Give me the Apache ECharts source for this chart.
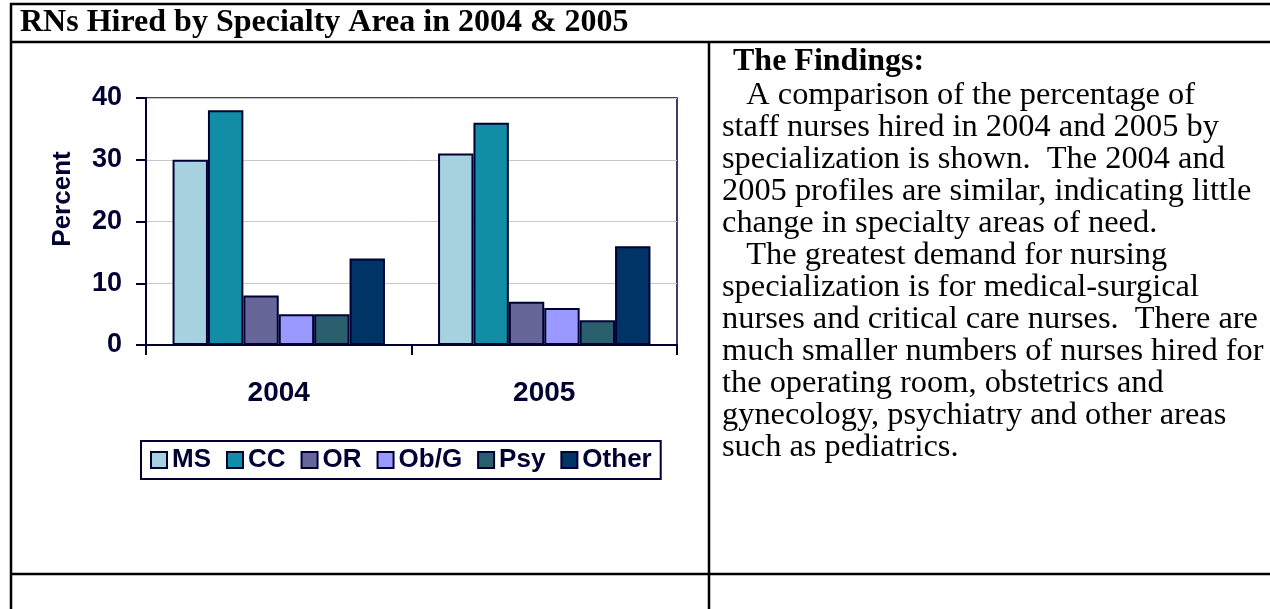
<!DOCTYPE html>
<html>
<head>
<meta charset="utf-8">
<style>
html,body{margin:0;padding:0;background:#fff;}
#main{width:1270px;height:609px;}
</style>
<script src="https://cdn.jsdelivr.net/npm/echarts@6/dist/echarts.min.js"></script>
</head>
<body>
<div id="main"></div>
<script>
// ---- data ----
var categories = ['2004', '2005'];
var seriesNames = ['MS', 'CC', 'OR', 'Ob/G', 'Psy', 'Other'];
var msValues = [30, 31];
var ccValues = [38, 36];
var orValues = [8, 7];
var obgValues = [5, 6];
var psyValues = [5, 4];
var otherValues = [14, 16];
var yTicks = [0, 10, 20, 30, 40];
var seriesColors = ['#A6D2DF', '#118EA6', '#666699', '#9999FF', '#2A5F6D', '#003366'];

var pageTitle = 'RNs Hired by Specialty Area in 2004 & 2005';
var findingsHeading = 'The Findings:';
var findingsLines = [
  '   A comparison of the percentage of',
  'staff nurses hired in 2004 and 2005 by',
  'specialization is shown.  The 2004 and',
  '2005 profiles are similar, indicating little',
  'change in specialty areas of need.',
  '   The greatest demand for nursing',
  'specialization is for medical-surgical',
  'nurses and critical care nurses.  There are',
  'much smaller numbers of nurses hired for',
  'the operating room, obstetrics and',
  'gynecology, psychiatry and other areas',
  'such as pediatrics.'
];

var allValues = [msValues, ccValues, orValues, obgValues, psyValues, otherValues];
var navy = '#000033';
var serif = '"Liberation Serif", "Times New Roman", serif';
var sans = '"Liberation Sans", Arial, sans-serif';

var chart = echarts.init(document.getElementById('main'));

var series = seriesNames.map(function (n, i) {
  return {
    name: n,
    type: 'bar',
    data: allValues[i],
    barGap: '0%',
    barCategoryGap: '20%',
    itemStyle: { color: seriesColors[i], borderColor: navy, borderWidth: 2 }
  };
});

var graphics = [];
function hline(x1, x2, y) {
  graphics.push({ type: 'line', shape: { x1: x1, y1: y, x2: x2, y2: y }, style: { stroke: '#000', lineWidth: 2.5 } });
}
function vline(x, y1, y2) {
  graphics.push({ type: 'line', shape: { x1: x, y1: y1, x2: x, y2: y2 }, style: { stroke: '#000', lineWidth: 2.5 } });
}
hline(10, 1270, 4);
hline(10, 1270, 42);
hline(10, 1270, 574);
vline(11, 3, 609);
vline(709, 42, 609);

graphics.push({
  type: 'text', x: 20, y: 23,
  style: { text: pageTitle, font: 'bold 32px ' + serif, fill: '#000', verticalAlign: 'middle' }
});
graphics.push({
  type: 'text', x: 733, y: 62,
  style: { text: findingsHeading, font: 'bold 32px ' + serif, fill: '#000', verticalAlign: 'middle' }
});
findingsLines.forEach(function (t, i) {
  graphics.push({
    type: 'text', x: 722, y: 95 + i * 32,
    style: { text: t, font: '32.4px ' + serif, fill: '#000', verticalAlign: 'middle', textAlign: 'left' }
  });
});
graphics.push({
  type: 'text', x: 63, y: 199, rotation: Math.PI / 2,
  style: { text: 'Percent', font: 'bold 26px ' + sans, fill: navy, textAlign: 'center', verticalAlign: 'middle' }
});

chart.setOption({
  animation: false,
  backgroundColor: '#fff',
  grid: { left: 146, top: 98, right: 593, bottom: 264, show: true, borderColor: navy, borderWidth: 1.5, containLabel: false },
  legend: {
    data: seriesNames,
    left: 141, top: 441,
    orient: 'horizontal',
    icon: 'rect',
    itemWidth: 16, itemHeight: 16, itemGap: 15,
    padding: [6, 9],
    borderColor: navy, borderWidth: 2,
    textStyle: { fontFamily: sans, fontWeight: 'bold', fontSize: 26, color: navy, padding: [0, 0, 0, 0] },
    selectedMode: false
  },
  xAxis: {
    type: 'category',
    data: categories,
    axisLine: { lineStyle: { color: navy, width: 2 } },
    axisTick: { show: true, length: 10, lineStyle: { color: navy, width: 2 } },
    axisLabel: { margin: 34, fontFamily: sans, fontWeight: 'bold', fontSize: 28, color: navy }
  },
  yAxis: {
    type: 'value',
    min: yTicks[0], max: yTicks[yTicks.length - 1], interval: 10,
    axisLine: { show: true, lineStyle: { color: navy, width: 2 } },
    axisTick: { show: true, length: 10, lineStyle: { color: navy, width: 2 } },
    splitLine: { show: true, lineStyle: { color: '#C8C8C8', width: 1 } },
    axisLabel: { margin: 24, fontFamily: sans, fontWeight: 'bold', fontSize: 27, color: navy }
  },
  series: series,
  graphic: graphics
});
</script>
</body>
</html>
